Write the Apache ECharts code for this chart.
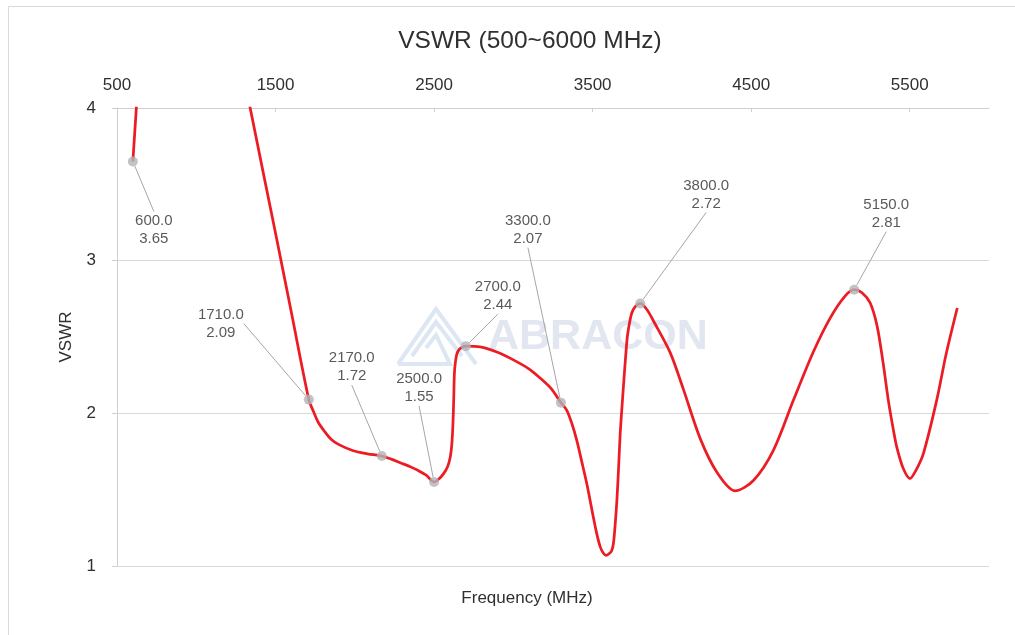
<!DOCTYPE html>
<html>
<head>
<meta charset="utf-8">
<script src="https://cdn.jsdelivr.net/npm/echarts@6/dist/echarts.min.js"></script>
<style>
html,body{margin:0;padding:0;background:#fff;}
#chart{width:1015px;height:635px;}
</style>
</head>
<body>
<div id="chart"></div>
<script>
// ---- data ----
const freqMHz = [600, 622, 680, 900, 1200, 1340, 1500, 1600, 1710, 1740, 1770, 1803, 1850, 1900, 1990, 2080, 2170, 2230, 2290, 2350, 2400, 2450, 2500, 2530, 2560, 2585, 2602, 2612, 2619, 2624, 2628, 2635, 2644, 2660, 2680, 2700, 2790, 2900, 3000, 3100, 3170, 3240, 3300, 3337, 3370, 3400, 3430, 3463, 3495, 3526, 3548, 3567, 3585, 3603, 3620, 3631, 3642, 3653, 3664, 3674, 3688, 3697, 3711, 3721, 3746, 3770, 3800, 3842, 3882, 3989, 4071, 4178, 4285, 4399, 4514, 4640, 4766, 4891, 4998, 5092, 5150, 5199, 5250, 5294, 5332, 5365, 5395, 5418, 5458, 5502, 5540, 5586, 5670, 5730, 5800];
const vswr = [3.65, 4.0, 4.9, 6.0, 4.75, 4.0, 3.18, 2.66, 2.09, 2.01, 1.94, 1.89, 1.83, 1.795, 1.755, 1.735, 1.72, 1.70, 1.675, 1.65, 1.625, 1.595, 1.55, 1.57, 1.605, 1.65, 1.714, 1.80, 1.933, 2.10, 2.26, 2.34, 2.39, 2.42, 2.435, 2.44, 2.435, 2.40, 2.35, 2.29, 2.23, 2.16, 2.07, 2.02, 1.93, 1.823, 1.69, 1.54, 1.37, 1.212, 1.125, 1.085, 1.07, 1.08, 1.10, 1.147, 1.27, 1.43, 1.65, 1.87, 2.085, 2.216, 2.41, 2.52, 2.655, 2.70, 2.72, 2.68, 2.608, 2.398, 2.162, 1.836, 1.612, 1.492, 1.56, 1.758, 2.085, 2.40, 2.624, 2.768, 2.81, 2.79, 2.724, 2.573, 2.331, 2.085, 1.902, 1.78, 1.642, 1.573, 1.628, 1.736, 2.085, 2.39, 2.69];
const markerFreq = [600, 1710, 2170, 2500, 2700, 3300, 3800, 5150];
const markerVswr = [3.65, 2.09, 1.72, 1.55, 2.44, 2.07, 2.72, 2.81];
const xTickLabels = [500, 1500, 2500, 3500, 4500, 5500];
const titleText = 'VSWR (500~6000 MHz)';
const xName = 'Frequency (MHz)';
const yName = 'VSWR';

// label offsets (style, px) for the annotation labels
const labelOffsets = [[21, 68], [-88, -76], [-30, -89], [-15, -94], [32, -50], [-33, -173], [66, -109], [32, -76]];

const chart = echarts.init(document.getElementById('chart'), null, {renderer: 'canvas'});
const FONT = '"Liberation Sans", Arial, sans-serif';
const TXT = '#303030';
const GRIDC = '#d9d9d9';

const option = {
  backgroundColor: '#ffffff',
  animation: false,
  title: {
    text: titleText,
    left: 525, top: 24, textAlign: 'center',
    textStyle: {fontFamily: FONT, fontSize: 24.5, fontWeight: 'normal', color: TXT}
  },
  grid: {left: 117, top: 108, right: 26, bottom: 69, containLabel: false},
  graphic: [
    {type: 'polyline', z: -10, shape: {points: [[8.5, 700], [8.5, 6.5], [1100, 6.5]]}, style: {fill: 'none', stroke: '#d9d9d9', lineWidth: 1}},
    {type: 'text', z: 1, x: 527, y: 598, style: {text: xName, font: '17px ' + FONT, fill: TXT, textAlign: 'center', textVerticalAlign: 'middle'}},
    {type: 'text', z: 1, x: 488, y: 337, style: {text: 'ABRACON', font: 'bold 43px ' + FONT, fill: '#e2e6f0', textAlign: 'left', textVerticalAlign: 'middle'}},
    {type: 'polyline', z: 1, shape: {points: [[398, 364], [436, 309], [476, 364]]}, style: {stroke: '#dde7f4', lineWidth: 4, fill: 'none'}},
    {type: 'polyline', z: 1, shape: {points: [[412, 356], [436, 322], [462, 356]]}, style: {stroke: '#dde7f4', lineWidth: 4, fill: 'none'}},
    {type: 'polyline', z: 1, shape: {points: [[426, 348], [436, 335], [450, 364], [398, 364]]}, style: {stroke: '#dde7f4', lineWidth: 4, fill: 'none'}}
  ],
  xAxis: {
    type: 'value', position: 'top', min: 500, max: 6000,
    axisLine: {show: true, lineStyle: {color: '#cfcfcf', width: 1}},
    axisTick: {show: true, inside: true, length: 4, customValues: xTickLabels, lineStyle: {color: '#cfcfcf'}},
    axisLabel: {customValues: xTickLabels, margin: 14, fontFamily: FONT, fontSize: 17, color: TXT, formatter: v => String(v)},
    splitLine: {show: false}
  },
  yAxis: {
    type: 'value', min: 1, max: 4, interval: 1,
    name: yName, nameLocation: 'middle', nameGap: 42, nameRotate: 90,
    nameTextStyle: {fontFamily: FONT, fontSize: 17, color: TXT},
    axisLine: {show: true, lineStyle: {color: '#cfcfcf', width: 1}},
    axisTick: {show: true, inside: false, length: 5, lineStyle: {color: '#cfcfcf'}},
    axisLabel: {margin: 21, fontFamily: FONT, fontSize: 17, color: TXT},
    splitLine: {show: true, lineStyle: {color: GRIDC, width: 1}}
  },
  series: [
    {
      type: 'line', name: 'VSWR', smooth: 0.3, showSymbol: false, clip: true, z: 3,
      lineStyle: {color: '#ec1c24', width: 2.75},
      data: freqMHz.map((f, i) => [f, vswr[i]])
    },
    {
      type: 'scatter', name: 'markers', z: 4, symbolSize: 10,
      itemStyle: {color: '#b3b4b8'},
      label: {
        show: true, position: 'inside', fontFamily: FONT, fontSize: 15, lineHeight: 18,
        color: TXT, align: 'center', verticalAlign: 'middle',
        formatter: p => p.value[0].toFixed(1) + '\n' + p.value[1].toFixed(2)
      },
      labelLine: {show: true, lineStyle: {color: '#a6a6a6', width: 1}},
      labelLayout: p => ({dx: labelOffsets[p.dataIndex][0], dy: labelOffsets[p.dataIndex][1]}),
      data: markerFreq.map((f, i) => [f, markerVswr[i]])
    }
  ]
};
chart.setOption(option);
</script>
</body>
</html>
